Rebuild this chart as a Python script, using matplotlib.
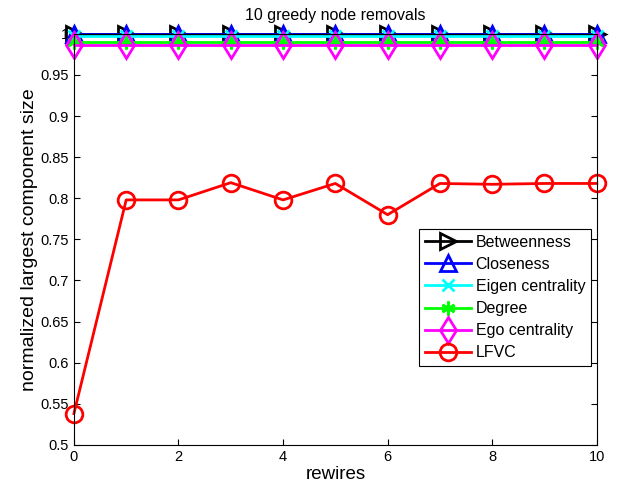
import numpy as np
import matplotlib
matplotlib.use('Agg')
from matplotlib import pyplot as plt

plt.rcParams['font.family'] = ['Liberation Sans', 'DejaVu Sans']

rewires = np.arange(0, 11)
betweenness = [1.0] * 11
closeness = [1.0] * 11
eigen = [0.997] * 11
degree = [0.990] * 11
ego = [0.9865] * 11
lfvc = [0.538, 0.798, 0.798, 0.819, 0.798, 0.818, 0.780, 0.818, 0.817, 0.818, 0.818]

# matlab style asterisk
asterisk = (6, 2, 0)

series = [
    ('Betweenness', betweenness, 'k', '>', 11),
    ('Closeness', closeness, 'b', '^', 11),
    ('Eigen centrality', eigen, '#00ffff', 'x', 9),
    ('Degree', degree, '#00ff00', asterisk, 10),
    ('Ego centrality', ego, '#ff00ff', 'd', 13),
    ('LFVC', lfvc, 'r', 'o', 12),
]

fig = plt.figure(figsize=(6.21, 4.91), dpi=100)
ax = fig.add_axes([0.119, 0.094, 0.842, 0.837])

for name, vals, col, mk, ms in series:
    ax.plot(rewires, vals, color=col, marker=mk, markersize=ms, linewidth=2,
            markerfacecolor='none', markeredgecolor=col, markeredgewidth=2,
            label=name, clip_on=False)

ax.set_xlim(0, 10)
ax.set_ylim(0.5, 1.0)
ax.set_xticks(np.arange(0, 11, 2))
yt = np.arange(0.5, 1.0001, 0.05)
ax.set_yticks(yt)
ax.set_yticklabels(['%g' % round(v, 2) for v in yt])
ax.tick_params(direction='in', top=True, right=True, labelsize=10.5, length=4)
ax.set_xlabel('rewires', fontsize=13.5, labelpad=2)
ax.set_ylabel('normalized largest component size', fontsize=14, labelpad=2)
ax.set_title('10 greedy node removals', fontsize=11.5, pad=10)

leg = ax.legend(loc='lower right', bbox_to_anchor=(0.998, 0.18), fontsize=11.5,
                fancybox=False, framealpha=1, edgecolor='k', handlelength=2.9,
                borderpad=0.35, labelspacing=0.45, handletextpad=0.3,
                borderaxespad=0.3)
leg.get_frame().set_linewidth(0.8)

fig.savefig('out.png', dpi=100)
